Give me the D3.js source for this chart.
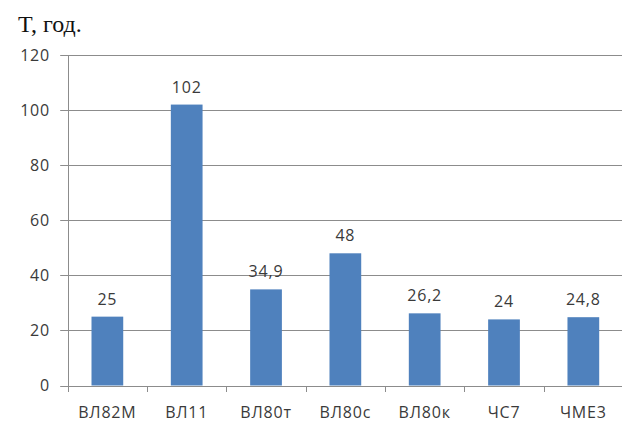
<!DOCTYPE html>
<html><head><meta charset="utf-8">
<script src="https://cdn.jsdelivr.net/npm/d3@7"></script>
<style>
html,body{margin:0;padding:0;background:#fff;}
svg{display:block;}
</style></head>
<body>
<svg id="chart" width="622" height="422"></svg>
<script>
const categories = ["ВЛ82М","ВЛ11","ВЛ80т","ВЛ80с","ВЛ80к","ЧС7","ЧМЕ3"];
const values = [25, 102, 34.9, 48, 26.2, 24, 24.8];
const labels = ["25","102","34,9","48","26,2","24","24,8"];
const yTicks = [0,20,40,60,80,100,120];
const yTitle = "T, год.";

(function(){
const svg = d3.select("#chart");
const pLeft = 67.7, pRight = 623, pTop = 55, pBottom = 385.5;
const x = d3.scaleBand().domain(categories).range([pLeft, pRight]).paddingInner(0.6).paddingOuter(0.3);
const xAxisScale = d3.scaleBand().domain(categories).range([pLeft, pRight]);
const y = d3.scaleLinear().domain([0,120]).range([pBottom, pTop]);

const font = "'Open Sans', sans-serif";
const textColor = "#3a3a3a";
const gridColor = "#8c8c8c";

// gridlines + y ticks
svg.append("g").selectAll("line").data(yTicks).join("line")
  .attr("x1", pLeft - 7.5).attr("x2", 622)
  .attr("y1", d => Math.round(y(d)) + 0.5).attr("y2", d => Math.round(y(d)) + 0.5)
  .attr("stroke", gridColor).attr("stroke-width", 1);

// y axis line
svg.append("line").attr("x1", Math.round(pLeft)+0.5).attr("x2", Math.round(pLeft)+0.5)
  .attr("y1", Math.round(y(120))).attr("y2", Math.round(y(0))+0.5)
  .attr("stroke", gridColor);

// y tick labels
svg.append("g").selectAll("text").data(yTicks).join("text")
  .attr("x", 50).attr("y", d => y(d)).attr("dy", "0.36em")
  .attr("text-anchor", "end").attr("font-family", font).attr("font-size", 16)
  .attr("letter-spacing", "0.8px")
  .attr("fill", textColor).text(d => d);

// x category ticks
const xTickPos = categories.map(c => xAxisScale(c)).concat([pRight]);
svg.append("g").selectAll("line").data(xTickPos).join("line")
  .attr("x1", d => Math.round(d)+0.5).attr("x2", d => Math.round(d)+0.5)
  .attr("y1", Math.round(y(0))).attr("y2", Math.round(y(0)) + 6)
  .attr("stroke", gridColor);

// bars
svg.append("g").selectAll("rect").data(values).join("rect")
  .attr("x", (d,i) => x(categories[i]))
  .attr("width", x.bandwidth())
  .attr("y", d => y(d))
  .attr("height", d => y(0) - y(d))
  .attr("fill", "#4f81bd");

// value labels
svg.append("g").selectAll("text").data(values).join("text")
  .attr("x", (d,i) => x(categories[i]) + x.bandwidth()/2)
  .attr("y", d => y(d) - 12)
  .attr("text-anchor", "middle").attr("font-family", font).attr("font-size", 16)
  .attr("letter-spacing", "0.8px")
  .attr("fill", textColor).text((d,i) => labels[i]);

// category labels
svg.append("g").selectAll("text").data(categories).join("text")
  .attr("x", c => xAxisScale(c) + xAxisScale.bandwidth()/2)
  .attr("y", 418)
  .attr("text-anchor", "middle").attr("font-family", font).attr("font-size", 16)
  .attr("letter-spacing", "0.8px")
  .attr("fill", textColor).text(c => c);

// title
svg.append("text").attr("x", 18).attr("y", 31.5)
  .attr("font-family", "'Liberation Serif', 'Times New Roman', serif")
  .attr("font-size", 24).attr("fill", "#111").text(yTitle);
})();
</script>
</body></html>
